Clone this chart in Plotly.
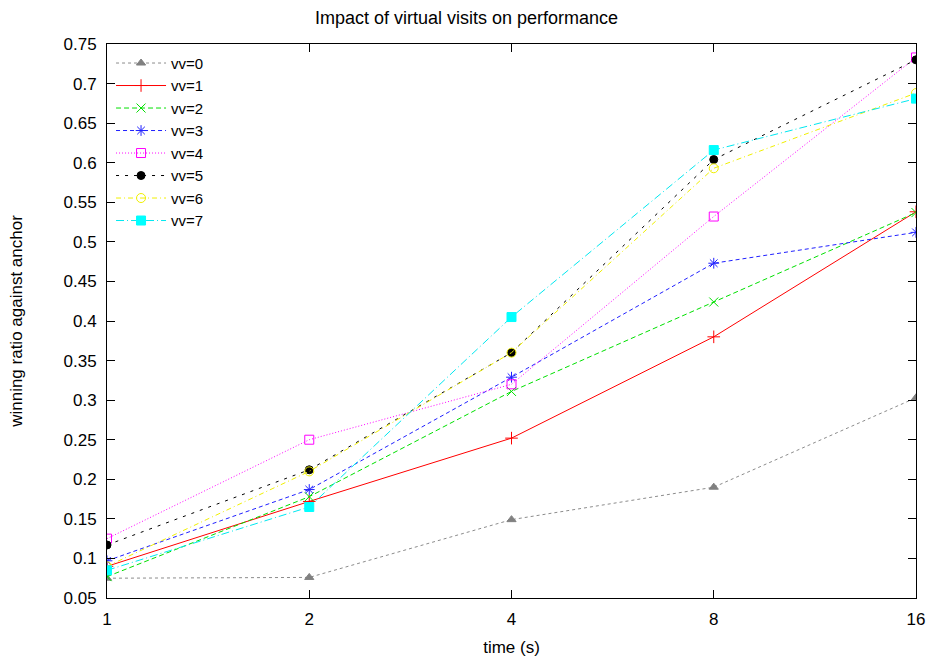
import plotly.graph_objects as go

times = [1, 2, 4, 8, 16]
series_names = ["vv=0", "vv=1", "vv=2", "vv=3", "vv=4", "vv=5", "vv=6", "vv=7"]
vv0 = [0.075, 0.076, 0.149, 0.190, 0.303]
vv1 = [0.090, 0.172, 0.252, 0.380, 0.538]
vv2 = [0.077, 0.178, 0.311, 0.424, 0.537]
vv3 = [0.097, 0.187, 0.329, 0.473, 0.512]
vv4 = [0.125, 0.250, 0.320, 0.532, 0.733]
vv5 = [0.117, 0.212, 0.360, 0.604, 0.730]
vv6 = [0.090, 0.210, 0.360, 0.593, 0.688]
vv7 = [0.085, 0.165, 0.405, 0.616, 0.681]
series_values = [vv0, vv1, vv2, vv3, vv4, vv5, vv6, vv7]

y_ticks = [0.05, 0.1, 0.15, 0.2, 0.25, 0.3, 0.35, 0.4, 0.45, 0.5, 0.55, 0.6, 0.65, 0.7, 0.75]
y_tick_labels = ["0.05", "0.1", "0.15", "0.2", "0.25", "0.3", "0.35", "0.4", "0.45", "0.5", "0.55", "0.6", "0.65", "0.7", "0.75"]
x_tick_labels = ["1", "2", "4", "8", "16"]

styles = [
    dict(color="#8c8c8c", dash="3px,3px", symbol="triangle-up", size=8, mcolor="#808080"),
    dict(color="#ff0000", dash="solid", symbol="cross-thin", size=9, mcolor="#ff0000"),
    dict(color="#00e000", dash="5px,3px", symbol="x-thin", size=9, mcolor="#00e000"),
    dict(color="#2020ff", dash="4px,3px", symbol="asterisk", size=9, mcolor="#2020ff"),
    dict(color="#ff00ff", dash="1px,2px", symbol="square-open", size=9, mcolor="#ff00ff"),
    dict(color="#000000", dash="3px,6px", symbol="circle", size=8, mcolor="#000000"),
    dict(color="#f0f000", dash="5px,3px,1px,3px", symbol="circle-open", size=9, mcolor="#f0f000"),
    dict(color="#00e8f0", dash="8px,3px,1px,3px", symbol="square", size=9, mcolor="#00ffff"),
]

fig = go.Figure()
for name, vals, st in zip(series_names, series_values, styles):
    fig.add_trace(go.Scatter(
        x=times, y=vals, name=name, mode="lines+markers",
        line=dict(color=st["color"], width=1, dash=st["dash"]),
        marker=dict(symbol=st["symbol"], size=st["size"], color=st["mcolor"],
                    line=dict(color=st["mcolor"], width=1)),
    ))

font = "Liberation Sans, Arial, sans-serif"
fig.update_layout(
    width=933, height=662,
    margin=dict(l=107, r=17, t=44, b=64),
    paper_bgcolor="white", plot_bgcolor="white",
    font=dict(family=font, size=17, color="black"),
    title=dict(text="Impact of virtual visits on performance", x=0.5, xanchor="center",
               y=0.974, yanchor="middle", font=dict(size=18)),
    showlegend=True,
    legend=dict(x=0.005, y=0.995, xanchor="left", yanchor="top", bgcolor="rgba(0,0,0,0)",
                font=dict(size=15), tracegroupgap=0, itemwidth=50),
)
fig.update_xaxes(
    type="log", range=[0, 1.20412], tickvals=times, ticktext=x_tick_labels,
    ticks="inside", ticklen=8, tickcolor="black", mirror="allticks",
    showline=True, linecolor="black", linewidth=1, showgrid=False, zeroline=False,
    ticklabelstandoff=6, automargin=False,
    title=dict(text="time (s)", standoff=12, font=dict(size=17)), tickfont=dict(size=17),
)
fig.update_yaxes(
    range=[0.05, 0.75], tickvals=y_ticks, ticktext=y_tick_labels,
    ticks="inside", ticklen=8, tickcolor="black", mirror="allticks",
    showline=True, linecolor="black", linewidth=1, showgrid=False, zeroline=False,
    ticklabelstandoff=6, automargin=False,
    title=dict(text="winning ratio against anchor", standoff=36, font=dict(size=17)), tickfont=dict(size=17),
)

fig.write_html("out.html")
